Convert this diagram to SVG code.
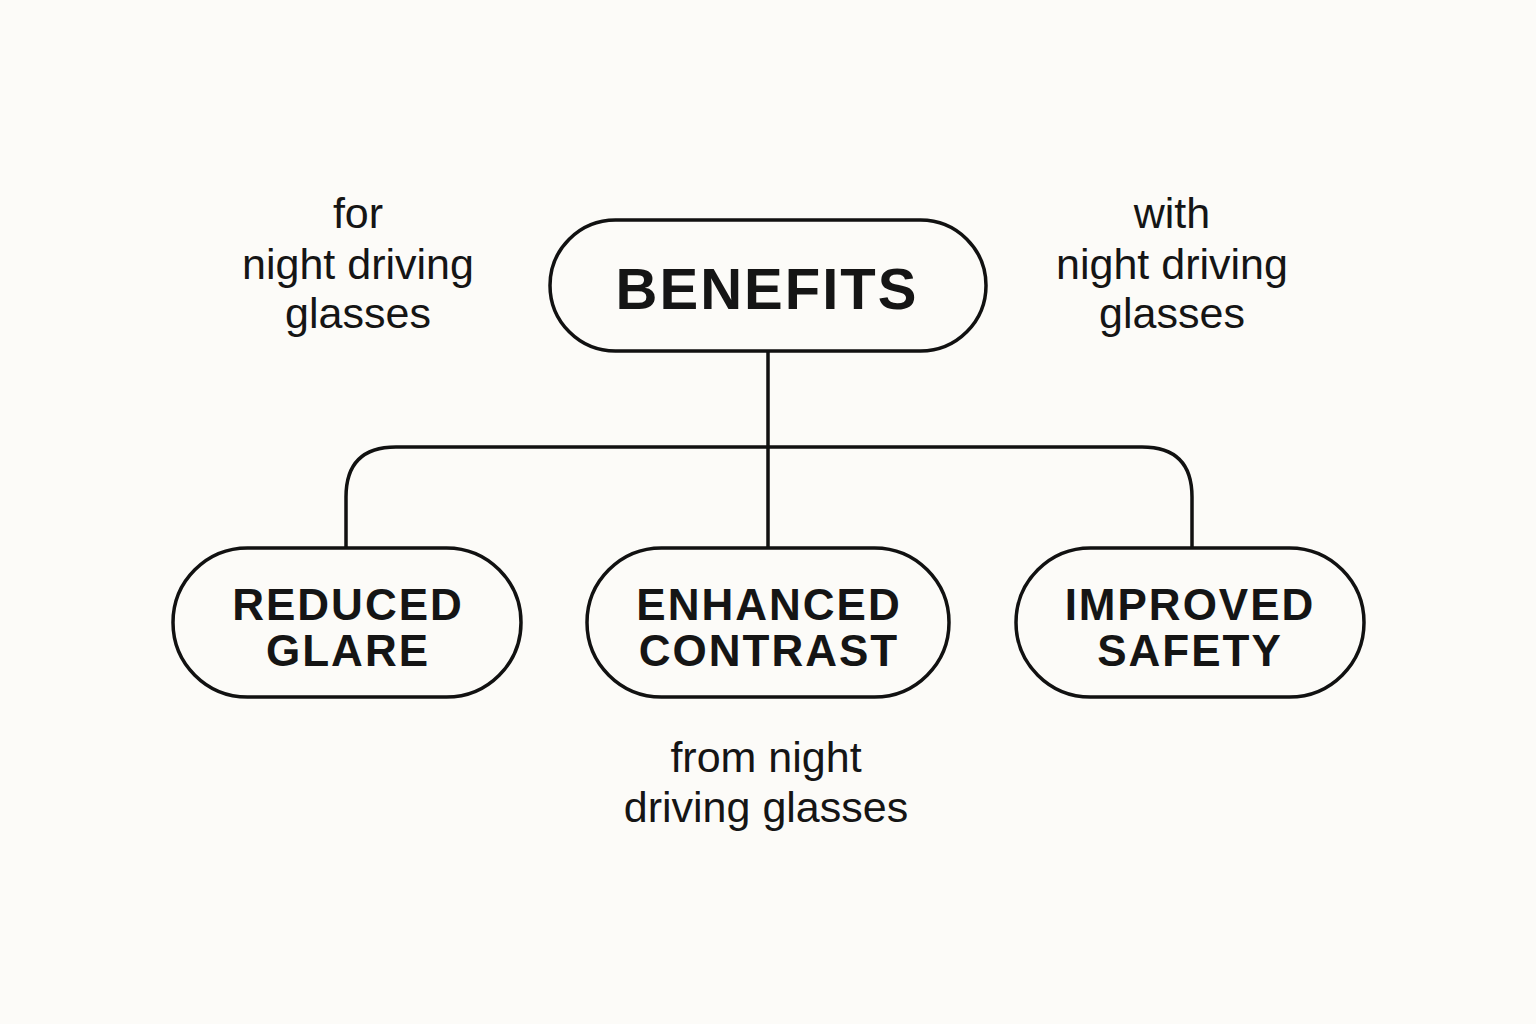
<svg xmlns="http://www.w3.org/2000/svg" width="1536" height="1024" viewBox="0 0 1536 1024">
  <style>
    .box { fill: #fcfbf8; stroke: #111111; stroke-width: 3.5; }
    .conn { fill: none; stroke: #111111; stroke-width: 3.5; }
    .title { font-family: "Liberation Sans", Arial, sans-serif; font-weight: bold; font-size: 58px; letter-spacing: 2px; fill: #151515; text-anchor: middle; }
    .label { font-family: "Liberation Sans", Arial, sans-serif; font-weight: bold; font-size: 44px; letter-spacing: 2px; fill: #151515; text-anchor: middle; }
    .note { font-family: "Liberation Sans", Arial, sans-serif; font-size: 43px; fill: #151515; text-anchor: middle; }
  </style>
  <rect width="1536" height="1024" fill="#fcfbf8"/>
  <g id="connectors">
    <path class="conn" d="M768,351 V548"/>
    <path class="conn" d="M346,548 V497 Q346,447 396,447 H1142 Q1192,447 1192,497 V548"/>
  </g>
  <g id="benefits">
    <rect class="box" x="550" y="220" width="436" height="131" rx="65.5"/>
    <text class="title" x="767" y="309">BENEFITS</text>
  </g>
  <g id="reduced-glare">
    <rect class="box" x="173" y="548" width="348" height="149" rx="74.5"/>
    <text class="label" x="348" y="620">REDUCED</text>
    <text class="label" x="348" y="666">GLARE</text>
  </g>
  <g id="enhanced-contrast">
    <rect class="box" x="587" y="548" width="362" height="149" rx="74.5"/>
    <text class="label" x="769" y="620">ENHANCED</text>
    <text class="label" x="769" y="666">CONTRAST</text>
  </g>
  <g id="improved-safety">
    <rect class="box" x="1016" y="548" width="348" height="149" rx="74.5"/>
    <text class="label" x="1190" y="620">IMPROVED</text>
    <text class="label" x="1190" y="666">SAFETY</text>
  </g>
  <g id="note-left">
    <text class="note" x="358" y="228">for</text>
    <text class="note" x="358" y="279">night driving</text>
    <text class="note" x="358" y="328">glasses</text>
  </g>
  <g id="note-right">
    <text class="note" x="1172" y="228">with</text>
    <text class="note" x="1172" y="279">night driving</text>
    <text class="note" x="1172" y="328">glasses</text>
  </g>
  <g id="note-bottom">
    <text class="note" x="766" y="772">from night</text>
    <text class="note" x="766" y="822">driving glasses</text>
  </g>
</svg>
